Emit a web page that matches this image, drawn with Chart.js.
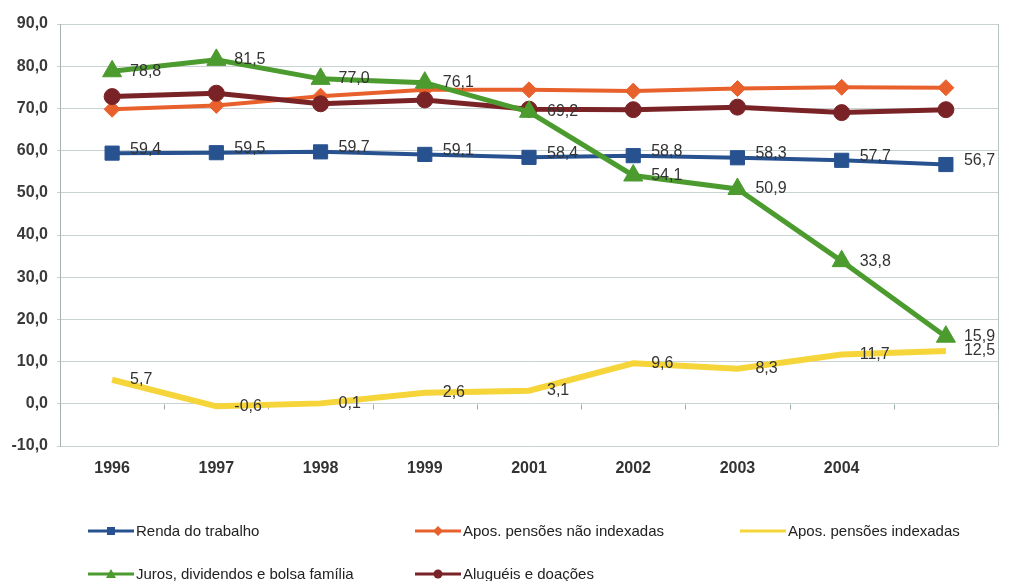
<!DOCTYPE html>
<html><head><meta charset="utf-8">
<script src="https://cdn.jsdelivr.net/npm/chart.js@4.4.0/dist/chart.umd.min.js"></script>
<style>
html,body{margin:0;padding:0;background:#fff;}
#wrap{position:relative;width:1014px;height:581px;overflow:hidden;}
#legend{position:absolute;left:0;top:0;width:1014px;height:581px;pointer-events:none;font-family:"Liberation Sans",Arial,sans-serif;font-size:15px;color:#222;}
.item{position:absolute;display:flex;align-items:center;height:20px;transform:translateY(-10px);white-space:nowrap;line-height:20px;}
.item svg{margin-right:2px;}
</style></head><body>
<div id="wrap"><canvas id="c" width="1014" height="581"></canvas><div id="legend"></div></div>
<script>
// ---- data ----
const categories = ['1996', '1997', '1998', '1999', '2001', '2002', '2003', '2004', ''];
const rendaTrabalho = [59.4, 59.5, 59.7, 59.1, 58.4, 58.8, 58.3, 57.7, 56.7];
const aposNaoIndexadas = [69.8, 70.7, 72.9, 74.4, 74.4, 74.1, 74.7, 75.0, 74.9];
const aposIndexadas = [5.7, -0.6, 0.1, 2.6, 3.1, 9.6, 8.3, 11.7, 12.5];
const jurosDividendos = [78.8, 81.5, 77.0, 76.1, 69.2, 54.1, 50.9, 33.8, 15.9];
const alugueisDoacoes = [72.8, 73.6, 71.1, 72.0, 69.8, 69.7, 70.3, 69.0, 69.7];
const seriesNames = ['Renda do trabalho', 'Apos. pensões não indexadas', 'Apos. pensões indexadas', 'Juros, dividendos e bolsa família', 'Aluguéis e doações'];
const yMin = -10, yMax = 90, yStep = 10;

const fmt = v => v.toFixed(1).replace('.', ',');
const FONT = '"Liberation Sans", Arial, sans-serif';
Chart.defaults.font.family = FONT;

const colors = ['#27528f', '#e8612c', '#f5d53a', '#4b9b2e', '#7a2326'];
const shapes = ['rect', 'rectRot', false, 'triangle', 'circle'];
const radii = [10, 8, 0, 11, 8];
const widths = [4, 4, 6, 5, 5];
const showValues = [true, false, true, true, false];
const labelDy = [-4, 0, 0, 0, 0];
const drawOrder = [2, 3, 4, 0, 1];
const seriesData = [rendaTrabalho, aposNaoIndexadas, aposIndexadas, jurosDividendos, alugueisDoacoes];

const datasets = seriesData.map((d, i) => ({
  label: seriesNames[i],
  data: d,
  borderColor: colors[i],
  backgroundColor: colors[i],
  borderWidth: widths[i],
  pointStyle: shapes[i] || 'circle',
  pointRadius: radii[i],
  pointHoverRadius: radii[i],
  pointBorderWidth: 1,
  tension: 0,
  order: drawOrder[i],
  showValues: showValues[i],
  labelDy: labelDy[i]
}));

const valueLabels = {
  id: 'valueLabels',
  afterDatasetsDraw(chart) {
    const ctx = chart.ctx;
    ctx.save();
    ctx.font = '16px ' + FONT;
    ctx.fillStyle = '#333';
    ctx.textAlign = 'left';
    ctx.textBaseline = 'middle';
    chart.data.datasets.forEach((ds, i) => {
      if (!ds.showValues) return;
      const meta = chart.getDatasetMeta(i);
      meta.data.forEach((pt, j) => {
        ctx.fillText(fmt(ds.data[j]), pt.x + 18, pt.y + ds.labelDy);
      });
    });
    ctx.restore();
  }
};

const frame = {
  id: 'frame',
  beforeDatasetsDraw(chart) {
    const {ctx, chartArea: a, scales} = chart;
    ctx.save();
    ctx.strokeStyle = '#b8c2c2';
    ctx.lineWidth = 1;
    ctx.beginPath();
    ctx.moveTo(Math.round(a.right) + 0.5, a.top);
    ctx.lineTo(Math.round(a.right) + 0.5, a.bottom);
    ctx.stroke();
    const y0 = Math.round(scales.y.getPixelForValue(0)) + 0.5;
    const n = categories.length;
    ctx.strokeStyle = '#9aa';
    ctx.beginPath();
    for (let k = 0; k <= n; k++) {
      const x = Math.round(a.left + k * (a.right - a.left) / n) + 0.5;
      ctx.moveTo(x, y0);
      ctx.lineTo(x, y0 + 5);
    }
    ctx.stroke();
    ctx.restore();
  }
};

new Chart(document.getElementById('c'), {
  type: 'line',
  data: { labels: categories, datasets },
  plugins: [frame, valueLabels],
  options: {
    responsive: false,
    animation: false,
    layout: { padding: { top: 24, right: 16, bottom: 95, left: 0 } },
    plugins: { legend: { display: false }, tooltip: { enabled: false } },
    scales: {
      x: {
        offset: true,
        grid: { display: false },
        border: { display: false },
        ticks: { color: '#333', font: { size: 16, weight: 'bold' }, padding: 5, maxRotation: 0, autoSkip: false },
        afterFit: s => { s.height = 40; }
      },
      y: {
        min: yMin, max: yMax,
        grid: { color: '#c9d3d3', tickLength: 3 },
        border: { display: true, color: '#a9b3b3' },
        ticks: { stepSize: yStep, color: '#3a3a3a', font: { size: 16, weight: 'bold' }, padding: 9, callback: v => fmt(v) },
        afterFit: s => { s.width = 60; }
      }
    }
  }
});

// ---- legend (HTML) ----
const legendPos = [[88, 531], [415, 531], [740, 531], [88, 574], [415, 574]];
const svgMarker = (i) => {
  const c = colors[i];
  let m = '';
  if (shapes[i] === 'rect') m = `<rect x="19" y="6" width="8" height="8" fill="${c}"/>`;
  else if (shapes[i] === 'rectRot') m = `<polygon points="23,5 28,10 23,15 18,10" fill="${c}"/>`;
  else if (shapes[i] === 'triangle') m = `<polygon points="23,5 28,14 18,14" fill="${c}"/>`;
  else if (shapes[i] === 'circle') m = `<circle cx="23" cy="10" r="4.5" fill="${c}"/>`;
  return `<svg width="46" height="20"><line x1="0" y1="10" x2="46" y2="10" stroke="${c}" stroke-width="3"/>${m}</svg>`;
};
const leg = document.getElementById('legend');
seriesNames.forEach((name, i) => {
  const d = document.createElement('div');
  d.className = 'item';
  d.style.left = legendPos[i][0] + 'px';
  d.style.top = legendPos[i][1] + 'px';
  d.innerHTML = svgMarker(i) + '<span>' + name + '</span>';
  leg.appendChild(d);
});
</script>
</body></html>
